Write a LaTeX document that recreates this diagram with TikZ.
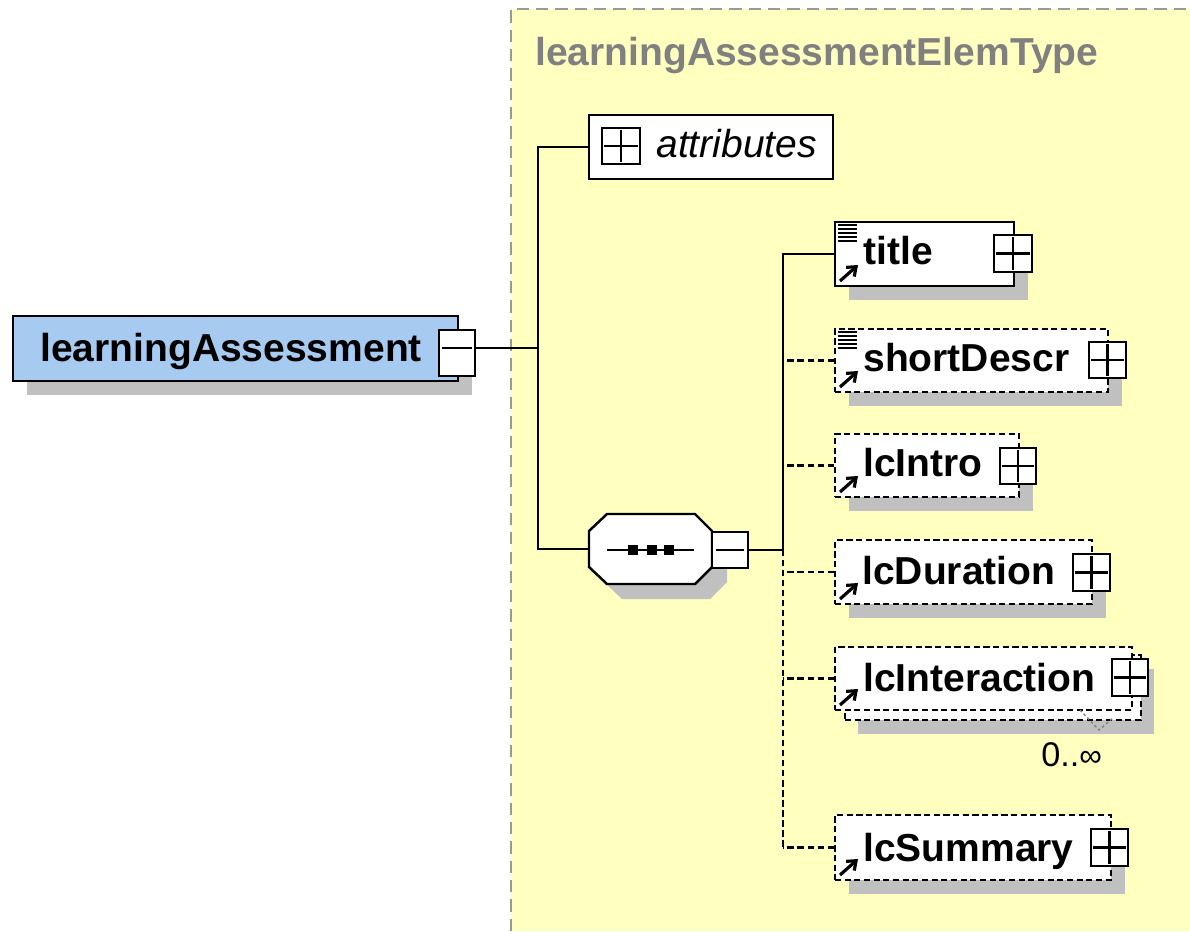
\documentclass[tikz,border=0pt]{standalone}
\usepackage{fontspec}
\setmainfont{Liberation Sans}
\usetikzlibrary{fit,calc,arrows.meta}
\definecolor{yel}{RGB}{255,255,192}
\definecolor{shadc}{RGB}{192,192,192}
\definecolor{blu}{RGB}{166,202,240}
\definecolor{bord}{RGB}{153,153,153}
\definecolor{ttl}{RGB}{128,128,128}
\newcommand\bigf{\fontsize{22.2pt}{26pt}\selectfont}
\newcommand\plussign[1]{%
  \draw[sign] ($(#1.west)+(3,0)$) -- ($(#1.east)+(-3,0)$);
  \draw[sign] ($(#1.north)+(0,3)$) -- ($(#1.south)+(0,-3)$);}
\newcommand\docicon[2]{%
  \foreach \k in {0,...,4}{\draw[line width=1.1pt] (#1+3,#2+3+4*\k) -- (#1+22,#2+3+4*\k);}}
\newcommand\refarrow[2]{%
  \draw[icon,-{Straight Barb[length=4.5pt,width=7pt]}] (#1+5,#2-5) -- (#1+23,#2-21);}
\begin{document}
\begin{tikzpicture}[x=0.02cm,y=-0.02cm,
  box/.style={draw=black, line width=1.4pt, fill=white, inner sep=0pt},
  dbox/.style={box, line width=1.5pt, dash pattern=on 3.5pt off 2pt},
  pm/.style={draw=black, line width=1.3pt, fill=white, inner sep=0pt},
  conn/.style={line width=1.3pt},
  dconn/.style={line width=1.3pt, dash pattern=on 3.5pt off 2.2pt},
  lbl/.style={anchor=base west, inner sep=0pt, font=\bfseries\bigf},
  sign/.style={line width=1.2pt},
  icon/.style={line width=1.8pt}
]
\useasboundingbox (0,0) rectangle (1190,931);
% type area
\fill[yel] (511,9) rectangle (1190,931);
\draw[bord, line width=1.2pt, dash pattern=on 7pt off 4pt] (511,931) -- (511,9) -- (1190,9);
\node[anchor=base west, inner sep=0pt, font=\bfseries\bigf, text=ttl] (typename) at (535,65) {learningAssessmentElemType};

% root element
\fill[shadc] (27,330) rectangle (472,395);
\node[box, fill=blu, fit={(13,316)(458,381)}] (la) {};
\node[lbl] (laT) at (40,361) {learningAssessment};
\node[pm, fit={(439,330)(475,376)}] (lam) {};
\coordinate (j1) at (538,348);
\draw[sign] (442,348) -- (472,348);

% attributes
\node[box, fit={(589,115)(833,179)}] (attr) {};
\node[pm, fit={(602,128)(640,164)}] (attrp) {};
\plussign{attrp}
\node[anchor=base west, inner sep=0pt, font=\itshape\bigf] (attrT) at (656,157) {attributes};

% sequence compositor
\fill[shadc] (622,529) -- (710,529) -- (727,546) -- (727,582) -- (710,599) -- (622,599) -- (604,582) -- (604,546) -- cycle;
\node[inner sep=0pt, fit={(589,514)(712,584)}] (seq) {};
\draw[box] (607,514) -- (695,514) -- (712,531) -- (712,567) -- (695,584) -- (607,584) -- (589,567) -- (589,531) -- cycle;
\draw[sign] (607,550) -- (694,550);
\fill (628,545) rectangle (638,555);
\fill (647,545) rectangle (657,555);
\fill (664,545) rectangle (674,555);
\node[pm, fit={(712,532)(748,568)}] (seqm) {};
\draw[sign] (716,550) -- (744,550);
\coordinate (j2) at (783,550);

% title
\fill[shadc] (849,236) rectangle (1028,300);
\node[box, fit={(835,222)(1014,286)}] (title) {};
\node[lbl] (titleT) at (863,264) {title};
\docicon{835}{222}
\refarrow{835}{286}
\node[pm, fit={(994,235)(1032,272)}] (titlep) {};
\plussign{titlep}

% shortDescr
\fill[shadc] (849,343) rectangle (1122,406);
\node[dbox, fit={(835,329)(1108,392)}] (sd) {};
\node[lbl] (sdT) at (863,371) {shortDescr};
\docicon{835}{329}
\refarrow{835}{392}
\node[pm, fit={(1089,342)(1126,378)}] (sdp) {};
\plussign{sdp}

% lcIntro
\fill[shadc] (849,448) rectangle (1033,511);
\node[dbox, fit={(835,434)(1019,497)}] (intro) {};
\node[lbl] (introT) at (863,476) {lcIntro};
\refarrow{835}{497}
\node[pm, fit={(1000,448)(1036,484)}] (introp) {};
\plussign{introp}

% lcDuration
\fill[shadc] (849,554) rectangle (1106,618);
\node[dbox, fit={(835,540)(1092,604)}] (dur) {};
\node[lbl] (durT) at (862,584) {lcDuration};
\refarrow{835}{604}
\node[pm, fit={(1073,554)(1110,591)}] (durp) {};
\plussign{durp}

% lcInteraction
\fill[shadc] (858,669) rectangle (1154,734);
\node[dbox, fit={(845,655)(1141,720)}] (inter2) {};
\node[dbox, fit={(835,647)(1132,710)}] (inter) {};
\node[lbl] (interT) at (863,691) {lcInteraction};
\refarrow{835}{710}
\node[pm, fit={(1112,659)(1148,696)}] (interp) {};
\plussign{interp}
\draw[ttl, line width=0.8pt, dash pattern=on 1.5pt off 1.5pt] (1080,710) -- (1099,730) -- (1113,718);
\node[anchor=base west, inner sep=0pt, font=\fontsize{19.5pt}{21pt}\selectfont] (occ) at (1041,766) {0..{\fontsize{18pt}{20pt}\selectfont ∞}};

% lcSummary
\fill[shadc] (849,829) rectangle (1125,894);
\node[dbox, fit={(835,815)(1111,880)}] (summ) {};
\node[lbl] (summT) at (863,861) {lcSummary};
\refarrow{835}{880}
\node[pm, fit={(1091,829)(1128,866)}] (summp) {};
\plussign{summp}

% connectors
\draw[conn] (lam.east |- j1) -- (j1);
\draw[conn] (attr.west) -| (j1);
\draw[conn] (seq.west) -| (j1);
\draw[conn] (seqm.east) -- (j2);
\draw[conn] (title.west) -| (j2);
\draw[dconn] (j2) -- (j2 |- summ.west);
\draw[dconn] (sd.west) -- (sd.west -| j2);
\draw[dconn] (intro.west) -- (intro.west -| j2);
\draw[dconn] (dur.west) -- (dur.west -| j2);
\draw[dconn] (inter.west) -- (inter.west -| j2);
\draw[dconn] (summ.west) -- (summ.west -| j2);
\end{tikzpicture}
\end{document}
